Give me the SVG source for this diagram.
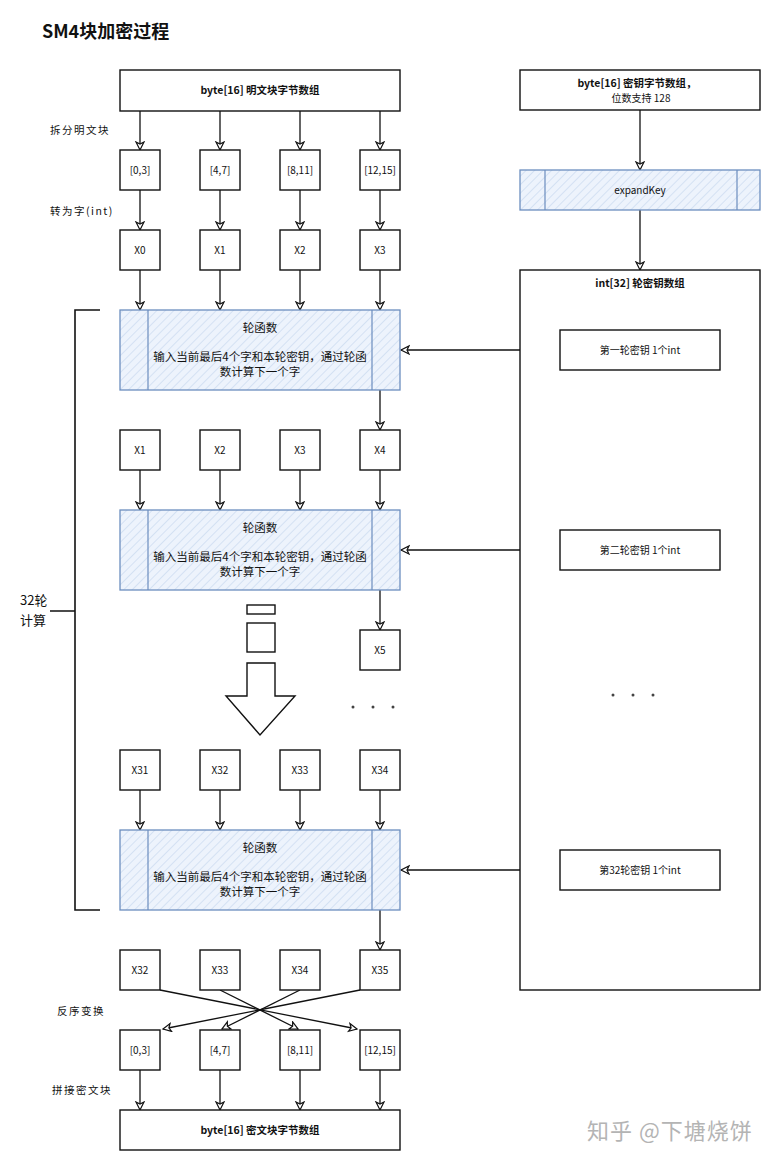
<svg xmlns="http://www.w3.org/2000/svg" width="771" height="1161" viewBox="0 0 771 1161">
<style>
text{font-family:"Noto Sans CJK SC","Liberation Sans",sans-serif;fill:#111;}
.box{fill:#fff;stroke:#111;stroke-width:1.4;}
.proc{fill:url(#hatch);stroke:#6c8ebf;stroke-width:1.3;}
.procl{stroke:#6c8ebf;stroke-width:1.2;fill:none;}
.c{font-size:10px;text-anchor:middle;}
.b{font-size:10.5px;font-weight:bold;text-anchor:middle;}
.lbl{font-size:10.5px;letter-spacing:1.5px;}
.rf{font-size:11.5px;text-anchor:middle;}
.con{stroke:#111;stroke-width:1.3;fill:none;marker-end:url(#arr);}
.line{stroke:#111;stroke-width:1.6;fill:none;}
</style>
<defs>
<pattern id="hatch" patternUnits="userSpaceOnUse" width="6" height="6" patternTransform="rotate(45)">
<rect width="6" height="6" fill="#edf3fc"/>
<line x1="0" y1="0" x2="0" y2="6" stroke="#c3d5ee" stroke-width="1.2"/>
</pattern>
<marker id="arr" markerUnits="userSpaceOnUse" markerWidth="12" markerHeight="12" refX="9" refY="5" orient="auto">
<path d="M1,1 L9,5 L1,9 L3,5 Z" fill="#fff" stroke="#111" stroke-width="1.2"/>
</marker>
</defs>
<rect width="771" height="1161" fill="#fff"/>
<text x="42" y="38" style="font-size:18px;font-weight:bold;">SM4块加密过程</text>

<g id="connectors">
<path class="con" d="M140,111 L140,150"/><path class="con" d="M220,111 L220,150"/><path class="con" d="M300,111 L300,150"/><path class="con" d="M380,111 L380,150"/>
<path class="con" d="M140,190 L140,230"/><path class="con" d="M220,190 L220,230"/><path class="con" d="M300,190 L300,230"/><path class="con" d="M380,190 L380,230"/>
<path class="con" d="M140,270 L140,310"/><path class="con" d="M220,270 L220,310"/><path class="con" d="M300,270 L300,310"/><path class="con" d="M380,270 L380,310"/>
<path class="con" d="M560,350 L401,350"/>
<path class="con" d="M380,390 L380,430"/>
<path class="con" d="M140,470 L140,510"/><path class="con" d="M220,470 L220,510"/><path class="con" d="M300,470 L300,510"/><path class="con" d="M380,470 L380,510"/>
<path class="con" d="M560,550 L401,550"/>
<path class="con" d="M380,590 L380,630"/>
<path class="con" d="M140,790 L140,830"/><path class="con" d="M220,790 L220,830"/><path class="con" d="M300,790 L300,830"/><path class="con" d="M380,790 L380,830"/>
<path class="con" d="M560,870 L401,870"/>
<path class="con" d="M380,910 L380,950"/>
<path class="con" d="M160,990 L357,1029"/>
<path class="con" d="M220,990 L298,1029"/>
<path class="con" d="M300,990 L222,1029"/>
<path class="con" d="M360,990 L163,1029"/>
<path class="con" d="M140,1070 L140,1110"/><path class="con" d="M220,1070 L220,1110"/><path class="con" d="M300,1070 L300,1110"/><path class="con" d="M380,1070 L380,1110"/>
<path class="con" d="M640,110 L640,170"/>
<path class="con" d="M640,210 L640,270"/>
</g>

<g id="plain-in">
<rect class="box" x="120" y="70" width="280" height="41"/>
<text class="b" x="260" y="94">byte[16] 明文块字节数组</text>
</g>
<text class="lbl" x="50" y="134">拆分明文块</text>
<text class="lbl" x="50" y="215">转为字(int)</text>

<g id="split-row">
<rect class="box" x="120" y="150" width="40" height="40"/><text class="c" x="140" y="174">[0,3]</text>
<rect class="box" x="200" y="150" width="40" height="40"/><text class="c" x="220" y="174">[4,7]</text>
<rect class="box" x="280" y="150" width="40" height="40"/><text class="c" x="300" y="174">[8,11]</text>
<rect class="box" x="360" y="150" width="40" height="40"/><text class="c" x="380" y="174">[12,15]</text>
</g>
<g id="x-row-0">
<rect class="box" x="120" y="230" width="40" height="40"/><text class="c" x="140" y="254">X0</text>
<rect class="box" x="200" y="230" width="40" height="40"/><text class="c" x="220" y="254">X1</text>
<rect class="box" x="280" y="230" width="40" height="40"/><text class="c" x="300" y="254">X2</text>
<rect class="box" x="360" y="230" width="40" height="40"/><text class="c" x="380" y="254">X3</text>
</g>

<g id="round-1">
<rect class="proc" x="120" y="310" width="280" height="80"/>
<path class="procl" d="M148,310 V390 M372,310 V390"/>
<text class="rf" x="260" y="332">轮函数</text>
<text class="rf" x="260" y="361">输入当前最后4个字和本轮密钥，通过轮函</text>
<text class="rf" x="260" y="376">数计算下一个字</text>
</g>

<g id="x-row-1">
<rect class="box" x="120" y="430" width="40" height="40"/><text class="c" x="140" y="454">X1</text>
<rect class="box" x="200" y="430" width="40" height="40"/><text class="c" x="220" y="454">X2</text>
<rect class="box" x="280" y="430" width="40" height="40"/><text class="c" x="300" y="454">X3</text>
<rect class="box" x="360" y="430" width="40" height="40"/><text class="c" x="380" y="454">X4</text>
</g>

<g id="round-2">
<rect class="proc" x="120" y="510" width="280" height="80"/>
<path class="procl" d="M148,510 V590 M372,510 V590"/>
<text class="rf" x="260" y="532">轮函数</text>
<text class="rf" x="260" y="561">输入当前最后4个字和本轮密钥，通过轮函</text>
<text class="rf" x="260" y="576">数计算下一个字</text>
</g>

<g id="x5">
<rect class="box" x="360" y="630" width="40" height="40"/><text class="c" x="380" y="654">X5</text>
</g>

<g id="continue-arrow">
<rect class="box" x="247" y="605" width="28" height="9"/>
<rect class="box" x="247" y="623" width="28" height="29"/>
<path class="box" d="M247,663 H275 V696 H295 L260,735 L226,696 H247 Z"/>
</g>

<g id="dots-left" fill="#444">
<circle cx="353" cy="707" r="1.5"/><circle cx="373" cy="707" r="1.5"/><circle cx="393" cy="707" r="1.5"/>
</g>

<g id="x-row-31">
<rect class="box" x="120" y="750" width="40" height="40"/><text class="c" x="140" y="774">X31</text>
<rect class="box" x="200" y="750" width="40" height="40"/><text class="c" x="220" y="774">X32</text>
<rect class="box" x="280" y="750" width="40" height="40"/><text class="c" x="300" y="774">X33</text>
<rect class="box" x="360" y="750" width="40" height="40"/><text class="c" x="380" y="774">X34</text>
</g>

<g id="round-32">
<rect class="proc" x="120" y="830" width="280" height="80"/>
<path class="procl" d="M148,830 V910 M372,830 V910"/>
<text class="rf" x="260" y="852">轮函数</text>
<text class="rf" x="260" y="881">输入当前最后4个字和本轮密钥，通过轮函</text>
<text class="rf" x="260" y="896">数计算下一个字</text>
</g>

<g id="brace">
<path class="line" d="M100,310 H75 V910 H100 M75,611 H50"/>
<text x="20" y="605" style="font-size:13px;">32轮</text>
<text x="20" y="625" style="font-size:13px;">计算</text>
</g>

<g id="x-row-32">
<rect class="box" x="120" y="950" width="40" height="40"/><text class="c" x="140" y="974">X32</text>
<rect class="box" x="200" y="950" width="40" height="40"/><text class="c" x="220" y="974">X33</text>
<rect class="box" x="280" y="950" width="40" height="40"/><text class="c" x="300" y="974">X34</text>
<rect class="box" x="360" y="950" width="40" height="40"/><text class="c" x="380" y="974">X35</text>
</g>
<text class="lbl" x="57" y="1015">反序变换</text>
<text class="lbl" x="52" y="1094">拼接密文块</text>

<g id="out-row">
<rect class="box" x="120" y="1030" width="40" height="40"/><text class="c" x="140" y="1054">[0,3]</text>
<rect class="box" x="200" y="1030" width="40" height="40"/><text class="c" x="220" y="1054">[4,7]</text>
<rect class="box" x="280" y="1030" width="40" height="40"/><text class="c" x="300" y="1054">[8,11]</text>
<rect class="box" x="360" y="1030" width="40" height="40"/><text class="c" x="380" y="1054">[12,15]</text>
</g>

<g id="cipher-out">
<rect class="box" x="120" y="1110" width="280" height="40"/>
<text class="b" x="260" y="1134">byte[16] 密文块字节数组</text>
</g>

<g id="key-in">
<rect class="box" x="520" y="70" width="240" height="40"/>
<text class="b" x="637" y="87">byte[16] 密钥字节数组，</text>
<text class="c" x="641" y="102">位数支持 128</text>
</g>

<g id="expandKey">
<rect class="proc" x="520" y="170" width="240" height="40"/>
<path class="procl" d="M545,170 V210 M737,170 V210"/>
<text class="c" x="640" y="194">expandKey</text>
</g>

<g id="roundkeys">
<rect class="box" x="520" y="270" width="240" height="720"/>
<text class="b" x="640" y="287">int[32] 轮密钥数组</text>
</g>
<g id="rk1">
<rect class="box" x="560" y="330" width="160" height="40"/>
<text class="c" x="640" y="354">第一轮密钥 1个int</text>
</g>
<g id="rk2">
<rect class="box" x="560" y="530" width="160" height="40"/>
<text class="c" x="640" y="554">第二轮密钥 1个int</text>
</g>
<g id="dots-right" fill="#444">
<circle cx="613" cy="695" r="1.5"/><circle cx="633" cy="695" r="1.5"/><circle cx="653" cy="695" r="1.5"/>
</g>
<g id="rk32">
<rect class="box" x="560" y="850" width="160" height="40"/>
<text class="c" x="640" y="874">第32轮密钥 1个int</text>
</g>

<text x="587" y="1139" style="font-size:22px;fill:#b4b4b4;letter-spacing:1px;">知乎 @下塘烧饼</text>
</svg>
